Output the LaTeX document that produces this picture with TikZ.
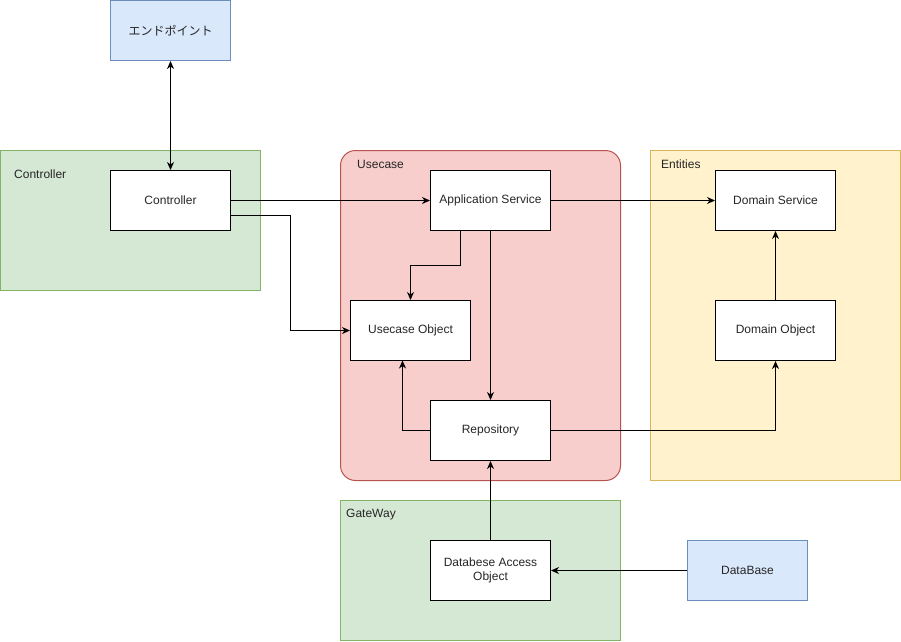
\documentclass[tikz,border=0pt]{standalone}
\usepackage{fontspec}
\setmainfont{Liberation Sans}
\newfontfamily\cjk{Noto Sans CJK JP}
\usetikzlibrary{arrows.meta,positioning}
\definecolor{bluefill}{HTML}{DAE8FC}
\definecolor{blueline}{HTML}{6C8EBF}
\definecolor{greenfill}{HTML}{D5E8D4}
\definecolor{greenline}{HTML}{82B366}
\definecolor{redfill}{HTML}{F8CECC}
\definecolor{redline}{HTML}{B85450}
\definecolor{yellowfill}{HTML}{FFF2CC}
\definecolor{yellowline}{HTML}{D6B656}
\tikzset{
  every node/.style={font=\fontsize{12}{14}\selectfont, text=black!85},
  box/.style={draw=black, fill=white, line width=1pt, minimum width=120pt, minimum height=60pt, inner sep=0pt, align=center},
  bluebox/.style={box, draw=blueline, fill=bluefill},
  grp/.style={line width=1pt, inner sep=0pt},
  grouplabel/.style={anchor=west, inner sep=0pt},
  conn/.style={line width=1pt, -{Stealth[length=8pt,width=7pt,inset=2.5pt]}},
}
\begin{document}
\begin{tikzpicture}[x=1pt,y=-1pt]
\useasboundingbox (0,0) rectangle (901,641);
% groups
\draw[grp, draw=greenline, fill=greenfill] (0.5,150.5) rectangle (260.5,290.5);
\draw[grp, draw=redline, fill=redfill, rounded corners=15pt] (340.5,150.5) rectangle (620.5,480.5);
\draw[grp, draw=yellowline, fill=yellowfill] (650.5,150.5) rectangle (900.5,480.5);
\draw[grp, draw=greenline, fill=greenfill] (340.5,500.5) rectangle (620.5,640.5);
\node[grouplabel] (lctrl) at (14,174) {Controller};
\node[grouplabel] (luse) at (357,164) {Usecase};
\node[grouplabel] (lent) at (661,164) {Entities};
\node[grouplabel] (lgate) at (346,515) {GateWay};
% nodes
\node[bluebox] (ep) at (170.5,30.5) {\cjk エンドポイント};
\node[box] (ctrl) at (170.5,200.5) {Controller};
\node[box] (app) at (490.5,200.5) {Application Service};
\node[box] (uco) at (410.5,330.5) {Usecase Object};
\node[box] (repo) at (490.5,430.5) {Repository};
\node[box] (ds) at (775.5,200.5) {Domain Service};
\node[box] (dobj) at (775.5,330.5) {Domain Object};
\node[box] (dao) at (490.5,570.5) {Databese Access\\Object};
\node[bluebox] (db) at (747.5,570.5) {DataBase};
% connectors
\draw[conn, {Stealth[length=8pt,width=7pt,inset=2.5pt]}-{Stealth[length=8pt,width=7pt,inset=2.5pt]}] (ep) -- (ctrl);
\draw[conn] (ctrl.east |- 0,215.5) -| (290.5,330.5) -- (uco.west);
\draw[conn] (ctrl) -- (app);
\draw[conn] (app) -- (ds);
\draw[conn] (460.5,230.5) |- (410.5,265.5) -- (uco.north);
\draw[conn] (app) -- (repo);
\draw[conn] (repo.west) -| (402.5,360.5);
\draw[conn] (repo.east) -| (dobj.south);
\draw[conn] (dobj) -- (ds);
\draw[conn] (dao) -- (repo);
\draw[conn] (db) -- (dao);
\end{tikzpicture}
\end{document}
